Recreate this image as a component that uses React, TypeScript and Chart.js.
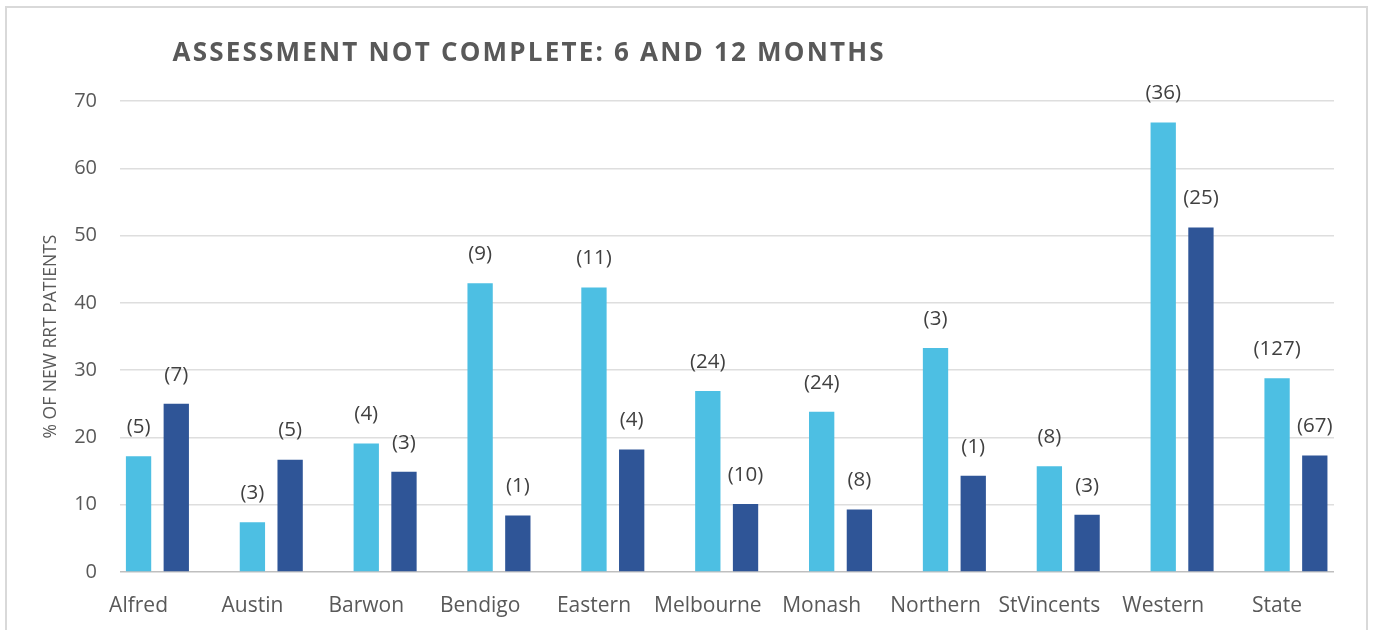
import React, { useEffect, useRef } from "react";
import { Chart, registerables } from "chart.js";

Chart.register(...registerables);

const titleText = "ASSESSMENT NOT COMPLETE: 6 AND 12 MONTHS";
const yAxisTitle = "% OF NEW RRT PATIENTS";
const categories = ["Alfred", "Austin", "Barwon", "Bendigo", "Eastern", "Melbourne", "Monash", "Northern", "StVincents", "Western", "State"];
const sixMonthPct = [17.2, 7.4, 19.1, 42.9, 42.3, 26.9, 23.8, 33.3, 15.7, 66.8, 28.8];
const twelveMonthPct = [25.0, 16.7, 14.9, 8.4, 18.2, 10.1, 9.3, 14.3, 8.5, 51.2, 17.3];
const sixMonthCount = [5, 3, 4, 9, 11, 24, 24, 3, 8, 36, 127];
const twelveMonthCount = [7, 5, 3, 1, 4, 10, 8, 1, 3, 25, 67];
const yMin = 0;
const yMax = 70;
const yStep = 10;

const FONT = '"Open Sans", "DejaVu Sans", sans-serif';

export default function App() {
  const ref = useRef<HTMLCanvasElement | null>(null);

  useEffect(() => {
    if (!ref.current) return;
    const counts = [null, sixMonthCount, twelveMonthCount];

    const labelPlugin = {
      id: "countLabels",
      afterDatasetsDraw(chart: any) {
        const ctx = chart.ctx;
        ctx.save();
        ctx.font = `20.5px ${FONT}`;
        ctx.fillStyle = "#404040";
        ctx.textAlign = "center";
        ctx.textBaseline = "middle";
        [1, 2].forEach((di) => {
          const meta = chart.getDatasetMeta(di);
          meta.data.forEach((el: any, i: number) => {
            const c = (counts[di] as number[])[i];
            ctx.fillText(`(${c})`, el.x, el.y - 29);
          });
        });
        ctx.restore();
      },
    };

    const titlePlugin = {
      id: "leftTitle",
      afterDraw(chart: any) {
        const ctx = chart.ctx;
        ctx.save();
        ctx.font = `bold 26px ${FONT}`;
        (ctx as any).letterSpacing = "2.2px";
        ctx.fillStyle = "#595959";
        ctx.textAlign = "left";
        ctx.textBaseline = "alphabetic";
        ctx.fillText(titleText, chart.chartArea.left + 52.5, 61);
        ctx.restore();
      },
    };

    const chart = new Chart(ref.current, {
      type: "bar",
      data: {
        datasets: [
          {
            label: "",
            data: categories.map((_, i) => ({ x: i, y: null })),
            backgroundColor: "rgba(0,0,0,0)",
            categoryPercentage: 0.994,
            barPercentage: 0.671,
          },
          {
            label: "6 months",
            data: categories.map((_, i) => ({ x: i, y: sixMonthPct[i] })),
            backgroundColor: "#4dbfe3",
            categoryPercentage: 0.994,
            barPercentage: 0.671,
          },
          {
            label: "12 months",
            data: categories.map((_, i) => ({ x: i, y: twelveMonthPct[i] })),
            backgroundColor: "#2f5597",
            categoryPercentage: 0.994,
            barPercentage: 0.671,
          },
        ],
      } as any,
      options: {
        animation: false,
        responsive: false,
        maintainAspectRatio: false,
        layout: { padding: { top: 101, right: 41, bottom: 0, left: 37 } },
        plugins: {
          legend: { display: false },
          title: { display: false },
          tooltip: { enabled: false },
        },
        scales: {
          x: {
            type: "linear",
            offset: false,
            min: -0.163,
            max: 10.5,
            afterBuildTicks: (s: any) => {
              s.ticks = categories.map((_, i) => ({ value: i }));
            },
            afterFit: (s: any) => {
              s.height = 58;
            },
            grid: { display: false, offset: false },
            border: { display: false },
            ticks: {
              autoSkip: false,
              maxRotation: 0,
              minRotation: 0,
              padding: 13,
              color: "#595959",
              font: { family: FONT, size: 21 },
              callback: (v: any) => categories[Math.round(Number(v))] ?? "",
            },
          },
          y: {
            min: yMin,
            max: yMax,
            afterFit: (s: any) => {
              s.width = 83;
            },
            border: { display: false },
            grid: {
              drawTicks: false,
              lineWidth: 1.5,
              color: (c: any) => (c.tick && c.tick.value === 0 ? "#bfbfbf" : "#dedede"),
            },
            ticks: {
              stepSize: yStep,
              padding: 23,
              color: "#595959",
              font: { family: FONT, size: 20 },
            },
            title: {
              display: true,
              text: yAxisTitle,
              color: "#595959",
              font: { family: FONT, size: 17.5 },
            },
          },
        },
      } as any,
      plugins: [labelPlugin, titlePlugin],
    });
    return () => chart.destroy();
  }, []);

  return (
    <div style={{ position: "absolute", left: 0, top: 0, width: 1375, height: 630, overflow: "hidden", background: "#fff" }}>
      <div
        style={{
          position: "absolute",
          left: 5,
          top: 6,
          width: 1363,
          height: 624,
          border: "2px solid #d9d9d9",
          borderBottom: "none",
          boxSizing: "border-box",
        }}
      />
      <canvas ref={ref} width={1375} height={630} style={{ position: "absolute", left: 0, top: 0, width: 1375, height: 630 }} />
    </div>
  );
}
